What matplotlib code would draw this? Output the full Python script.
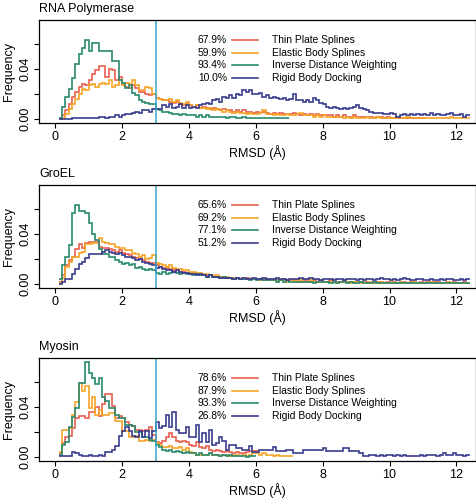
#!/usr/bin/env python3
"""RMSD histograms for three test systems, four fitting methods each."""

import numpy as np
import matplotlib
matplotlib.use("Agg")
import matplotlib.pyplot as plt

plt.rcParams['font.family'] = ['Liberation Sans', 'DejaVu Sans']

# bins are 0.1 A wide starting at 0.1 A; values are frequency x 1000
BIN_START = 0.1
BIN_WIDTH = 0.1

methods = ['Thin Plate Splines', 'Elastic Body Splines',
           'Inverse Distance Weighting', 'Rigid Body Docking']
colors = ['#E8604F', '#F5A327', '#2A8A6C', '#3A3D8E']
systems = ['RNA Polymerase', 'GroEL', 'Myosin']

rna_pct = ['67.9%', '59.9%', '93.4%', '10.0%']
gro_pct = ['65.6%', '69.2%', '77.1%', '51.2%']
myo_pct = ['78.6%', '87.9%', '93.3%', '26.8%']

# --- RNA Polymerase ---
rna_tps = [0, 3, 7, 12, 18, 22, 26, 28, 27, 31, 36, 39, 42, 42, 34, 40, 39, 31, 34, 27,
           26, 25, 27, 25, 22, 22, 20, 19, 20, 17, 16, 15, 15, 14, 13, 14, 12, 11, 12, 11,
           10, 11, 9, 10, 9, 8, 9, 8, 7, 8, 7, 7, 6, 7, 6, 7, 6, 6, 5, 6,
           5, 6, 5, 4, 5, 4, 5, 4, 4, 4, 5, 4, 3, 4, 3, 4, 3, 4, 3, 3,
           3, 3, 2, 3, 2, 3, 2, 2, 3, 2, 2, 2, 2, 2, 1, 2, 2, 1, 2, 1,
           1, 2, 1, 1, 1, 1, 1, 1, 1, 1]
rna_ebs = [0, 1, 4, 8, 12, 16, 20, 24, 23, 27, 28, 26, 28, 29, 28, 31, 26, 27, 31, 27,
           29, 28, 31, 27, 23, 23, 26, 25, 20, 17, 16, 15, 15, 16, 14, 15, 13, 12, 14, 11,
           10, 11, 9, 9, 8, 9, 7, 8, 7, 6, 7, 6, 5, 6, 5, 5, 4, 5, 4, 4,
           5, 7, 4, 4, 3, 4, 3, 3, 4, 3, 3, 4, 5, 3, 3, 3, 2, 3, 2, 3,
           2, 2, 2, 2, 2, 1, 2, 1, 2, 1, 1, 1, 2, 1, 1, 2, 1, 1, 1, 1,
           1, 1, 1, 1, 2, 1, 1, 1, 1, 1, 1, 1, 1, 1, 1, 1, 1, 2, 1, 1,
           1, 1, 1]
rna_idw = [1, 10, 18, 24, 33, 44, 52, 57, 63, 54, 61, 61, 54, 54, 54, 54, 46, 46, 31, 29,
           25, 27, 21, 19, 15, 14, 13, 12, 12, 8, 7, 6, 6, 5, 4, 4, 3, 4, 3, 3,
           3, 2, 3, 2, 3, 2, 2, 2, 2, 2, 1, 2, 2, 1, 1, 2, 1, 1, 1, 1,
           1, 1, 1, 1, 1, 1, 1, 1, 1]
rna_rbd = [0, 0, 0, 0, 1, 1, 1, 1, 1, 1, 1, 1, 2, 2, 1, 2, 2, 3, 2, 3,
           4, 4, 5, 6, 5, 7, 7, 6, 8, 8, 8, 11, 10, 12, 9, 10, 12, 9, 11, 9,
           10, 9, 11, 12, 13, 12, 15, 16, 14, 18, 17, 19, 17, 20, 19, 23, 22, 23, 20, 20,
           21, 18, 19, 17, 18, 17, 16, 17, 15, 16, 20, 15, 15, 14, 15, 14, 17, 15, 13, 12,
           10, 9, 10, 9, 8, 9, 8, 9, 10, 11, 9, 8, 7, 6, 5, 5, 5, 4, 4, 5,
           4, 2, 3, 4, 3, 4, 3, 4, 3, 4, 3, 5, 3, 4, 3, 3, 4, 5, 3, 3,
           4, 2, 3]

# --- GroEL ---
gro_tps = [2, 7, 15, 19, 22, 28, 32, 29, 33, 34, 34, 34, 30, 29, 29, 28, 27, 26, 27, 25,
           24, 23, 22, 21, 21, 19, 18, 17, 17, 15, 14, 13, 13, 12, 11, 11, 10, 10, 9, 9,
           9, 8, 8, 7, 7, 7, 6, 6, 6, 5, 5, 5, 4, 5, 4, 4, 5, 4, 4, 4,
           4, 3, 4, 3, 4, 3, 3, 4, 3, 3, 3, 3, 2, 3, 3, 2, 3, 2, 3, 2,
           2, 3, 2, 2, 2, 3, 2, 2, 2, 2, 2, 2, 2, 1, 2, 2, 2, 1, 2, 2,
           2, 1, 2, 2, 1, 2, 2, 1, 2, 1, 2, 1, 2, 2, 1, 1, 2, 1, 2, 1,
           1, 2, 1]
gro_ebs = [1, 5, 14, 18, 22, 22, 25, 26, 32, 32, 33, 33, 37, 34, 33, 32, 32, 30, 29, 29,
           27, 27, 25, 24, 22, 23, 20, 21, 23, 17, 16, 15, 14, 15, 13, 12, 12, 11, 11, 10,
           10, 9, 9, 8, 8, 7, 7, 7, 6, 6, 6, 5, 5, 5, 4, 5, 4, 4, 4, 4,
           3, 4, 3, 3, 4, 3, 3, 3, 2, 3, 3, 2, 3, 2, 2, 3, 2, 2, 2, 2,
           2, 2, 2, 1, 2, 2, 2, 1, 2, 2, 1, 2, 1, 2, 1, 1, 2, 1, 1, 2,
           1, 1, 2, 1, 1, 1, 2, 1, 1, 1, 1, 2, 1, 1, 1, 1, 2, 1, 1, 1,
           1, 1, 1]
gro_idw = [4, 15, 22, 31, 57, 63, 58, 58, 57, 49, 40, 35, 28, 24, 24, 22, 22, 19, 18, 16,
           17, 15, 16, 13, 14, 12, 11, 12, 11, 9, 8, 10, 8, 9, 10, 9, 8, 9, 8, 8,
           7, 8, 7, 7, 6, 7, 6, 6, 5, 6, 5, 5, 4, 5, 4, 4, 4, 3, 4, 3,
           4, 3, 3, 3, 3, 2, 3, 2, 3, 2, 2, 2, 2, 2, 2, 2, 1, 2, 2, 2,
           2, 1, 2, 1, 2, 2, 1, 2, 1, 1, 2, 1, 1, 1, 2, 1, 1, 1, 1, 1,
           1, 1, 1, 1, 1, 1, 1, 1, 1, 1, 1, 1, 1, 1, 1, 1, 1, 1, 1, 1,
           1, 1, 1]
gro_rbd = [0, 2, 4, 4, 8, 12, 16, 18, 21, 24, 24, 24, 24, 26, 27, 26, 25, 24, 25, 23,
           22, 22, 21, 19, 20, 18, 17, 16, 15, 13, 14, 12, 11, 11, 10, 11, 10, 9, 9, 8,
           8, 7, 8, 7, 6, 7, 6, 6, 5, 5, 5, 5, 4, 5, 4, 5, 4, 4, 5, 4,
           4, 5, 4, 4, 4, 5, 4, 4, 3, 4, 4, 4, 5, 4, 4, 5, 4, 4, 3, 4,
           4, 4, 3, 4, 4, 3, 4, 4, 4, 3, 4, 3, 4, 4, 3, 4, 5, 4, 4, 3,
           4, 3, 4, 5, 4, 3, 3, 4, 4, 3, 3, 4, 3, 3, 4, 3, 4, 4, 3, 3,
           4, 3, 4]

# --- Myosin ---
myo_tps = [3, 11, 16, 17, 23, 31, 33, 33, 31, 36, 36, 40, 33, 42, 50, 50, 41, 31, 33, 31,
           28, 26, 25, 22, 22, 21, 22, 24, 18, 12, 11, 13, 16, 19, 16, 13, 12, 13, 12, 10,
           9, 12, 8, 7, 9, 6, 5, 6, 5, 4, 5, 4, 3, 4, 3, 3, 4, 5, 5, 5]
myo_ebs = [4, 22, 22, 23, 34, 44, 59, 53, 57, 39, 48, 34, 38, 34, 34, 35, 35, 29, 29, 21,
           21, 16, 16, 17, 13, 13, 14, 13, 14, 11, 10, 8, 8, 9, 7, 7, 8, 6, 7, 4,
           3, 2, 2, 2, 2, 3, 2, 2, 1, 2, 2, 1, 2, 2, 1, 2, 1, 2, 3, 3,
           2, 3, 2, 2, 1, 2, 1, 1, 1, 1]
myo_idw = [2, 10, 12, 24, 32, 39, 59, 59, 76, 67, 63, 58, 63, 48, 45, 39, 39, 34, 31, 31,
           26, 26, 25, 20, 20, 16, 16, 14, 13, 10, 8, 6, 5, 6, 4, 5, 4, 3, 4, 3,
           3, 2, 3, 2, 2, 3, 2, 2, 1, 2, 1, 2, 1, 1, 1, 1, 0, 1, 1]
myo_rbd = [1, 1, 1, 1, 4, 3, 2, 1, 1, 2, 1, 1, 2, 1, 4, 4, 6, 9, 17, 21,
           24, 21, 17, 16, 21, 16, 21, 15, 21, 28, 23, 25, 34, 24, 36, 22, 19, 19, 24, 16,
           16, 26, 12, 19, 12, 22, 10, 11, 16, 13, 6, 10, 10, 7, 7, 6, 6, 9, 4, 4,
           6, 6, 6, 6, 8, 5, 5, 5, 6, 6, 3, 3, 3, 6, 6, 6, 6, 6, 6, 7,
           5, 5, 5, 5, 5, 7, 7, 5, 5, 5, 3, 1, 1, 2, 2, 1, 2, 1, 2, 2,
           1, 2, 1, 2, 1, 1, 1, 1, 2, 1, 2, 2, 2, 1, 2, 3, 2, 2, 3, 2,
           2, 1, 2]

panels = [
    (systems[0], [rna_tps, rna_ebs, rna_idw, rna_rbd], rna_pct),
    (systems[1], [gro_tps, gro_ebs, gro_idw, gro_rbd], gro_pct),
    (systems[2], [myo_tps, myo_ebs, myo_idw, myo_rbd], myo_pct),
]

fig = plt.figure(figsize=(4.77, 5.01), dpi=100)
bottoms = [0.7545, 0.4251, 0.0798]
FS = 9

for (name, series, pcts), bottom in zip(panels, bottoms):
    ax = fig.add_axes([0.0818, bottom, 0.916, 0.2056])
    for vals, col in zip(series, colors):
        vals = np.asarray(vals) / 1000.0
        edges = BIN_START + BIN_WIDTH * np.arange(len(vals) + 1)
        ax.stairs(vals, edges, baseline=None, color=col, lw=1.2)
    ax.axvline(3.0, color='#3AA6CC', lw=1.1)

    ax.set_xlim(-0.484, 12.584)
    ax.set_ylim(-0.00304, 0.07904)
    ax.set_xticks(range(0, 13, 2))
    ax.set_yticks([0.0, 0.02, 0.04, 0.06])
    ax.set_yticklabels(['0.00', '', '0.04', ''], rotation=90, va='center')
    ax.tick_params(direction='out', length=3.5, width=0.8, labelsize=FS, pad=2)
    for sp in ax.spines.values():
        sp.set_linewidth(0.9)
    ax.set_xlabel('RMSD (Å)', fontsize=FS, labelpad=2)
    ax.set_ylabel('Frequency', fontsize=FS, labelpad=3)
    ax.set_title(name, loc='left', fontsize=FS, pad=6)

    # hand-made legend like the original
    for k, (pct, lab, col) in enumerate(zip(pcts, methods, colors)):
        yy = 0.806 - 0.123 * k
        ax.text(0.430, yy, pct, transform=ax.transAxes, ha='right', va='center',
                fontsize=7.4)
        ax.plot([0.442, 0.501], [yy, yy], transform=ax.transAxes, color=col, lw=1.2)
        ax.text(0.533, yy, lab, transform=ax.transAxes, ha='left', va='center',
                fontsize=7.4)

fig.savefig('out.png', dpi=100)
